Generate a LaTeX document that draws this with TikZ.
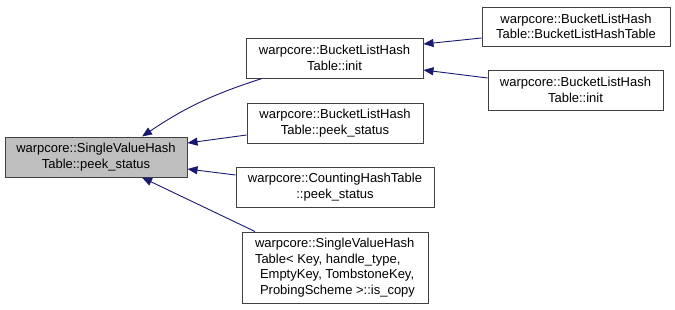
\documentclass[tikz,border=0pt]{standalone}
\usepackage{fontspec}
\setmainfont{Liberation Sans}
\usetikzlibrary{arrows.meta}

\definecolor{edgeblue}{RGB}{25,25,112}
\definecolor{boxline}{RGB}{64,64,64}
\definecolor{rootfill}{RGB}{191,191,191}

\tikzset{
  fnbox/.style={draw=boxline, line width=1pt, fill=white, align=center,
    inner sep=0pt, font=\fontsize{13}{15.5}\selectfont},
  rootbox/.style={fnbox, fill=rootfill},
  call/.style={draw=edgeblue, line width=0.9pt,
    -{Triangle[length=10pt,width=8pt]}},
}

\begin{document}
\begin{tikzpicture}[x=1pt,y=-1pt]
  \useasboundingbox (0,0) rectangle (675,309);

  % 被调用的函数
  \node[rootbox, minimum width=182pt, minimum height=40pt] (root) at (96,157)
    {warpcore::SingleValueHash\\Table::peek\_status};

  % 第一层调用者
  \node[fnbox, minimum width=177pt, minimum height=40pt] (init) at (334.5,58)
    {warpcore::BucketListHash\\Table::init};
  \node[fnbox, minimum width=176pt, minimum height=40pt] (peek) at (335,123)
    {warpcore::BucketListHash\\Table::peek\_status};
  \node[fnbox, minimum width=198pt, minimum height=40pt] (count) at (335,187)
    {warpcore::CountingHashTable\\::peek\_status};
  \node[fnbox, align=left, minimum width=186pt, minimum height=71pt] (iscopy) at (335,267.5)
    {warpcore::SingleValueHash\\Table< Key, handle\_type,\\\hspace*{5pt}EmptyKey, TombstoneKey,\\\hspace*{5pt}ProbingScheme >::is\_copy};

  % 第二层调用者
  \node[fnbox, minimum width=188pt, minimum height=39pt] (ctor) at (576,26.5)
    {warpcore::BucketListHash\\Table::BucketListHashTable};
  \node[fnbox, minimum width=175pt, minimum height=40pt] (initb) at (575.5,90)
    {warpcore::BucketListHash\\Table::init};

  % 调用关系
  \draw[call] ([yshift=-11.5pt]ctor.west) -- ([yshift=14pt]init.east);
  \draw[call] ([yshift=12pt]initb.west) -- ([yshift=-12pt]init.east);
  \draw[call] ([xshift=-72.5pt]init.south) to[bend right=8] ([xshift=46pt]root.north);
  \draw[call] ([yshift=-12pt]peek.west) -- ([yshift=14pt]root.east);
  \draw[call] ([yshift=12pt]count.west) -- ([yshift=-12pt]root.east);
  \draw[call] ([xshift=-80pt]iscopy.north) -- ([xshift=46pt]root.south);
\end{tikzpicture}
\end{document}
